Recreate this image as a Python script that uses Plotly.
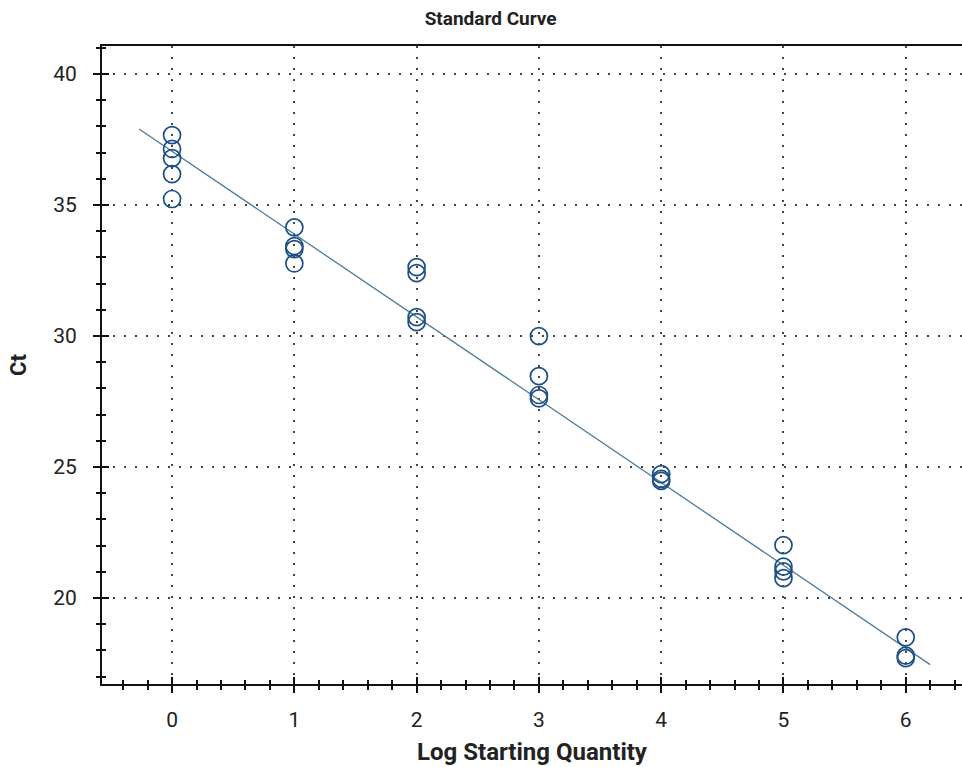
import plotly.graph_objects as go

# Data
log_qty = [0, 0, 0, 0, 0,
           1, 1, 1, 1,
           2, 2, 2, 2,
           3, 3, 3, 3,
           4, 4, 4,
           5, 5, 5, 5,
           6, 6, 6]
ct_values = [37.67, 37.14, 36.79, 36.18, 35.23,
             34.15, 33.43, 33.32, 32.77,
             32.63, 32.40, 30.72, 30.53,
             30.00, 28.47, 27.75, 27.62,
             24.73, 24.55, 24.47,
             22.02, 21.20, 21.02, 20.76,
             18.50, 17.80, 17.71]

fit_slope = -3.16
fit_intercept = 37.05
fit_x = [-0.27, 6.2]
fit_y = [fit_intercept + fit_slope * v for v in fit_x]

x_ticks = [0, 1, 2, 3, 4, 5, 6]
y_ticks = [20, 25, 30, 35, 40]

FONT = "Liberation Sans Narrow, Arial Narrow, Roboto, Liberation Sans, Arial"
XR = [-0.573, 6.46]
YR = [16.72, 41.07]

fig = go.Figure()
fig.add_trace(go.Scatter(
    x=fit_x, y=fit_y, mode="lines",
    line=dict(color="#4d7c9c", width=1.3),
    hoverinfo="skip", showlegend=False))
fig.add_trace(go.Scatter(
    x=log_qty, y=ct_values, mode="markers",
    marker=dict(symbol="circle-open", size=17,
                line=dict(color="#1d4f86", width=1.7), color="#1d4f86"),
    showlegend=False))
# dummy trace on overlay axes
fig.add_trace(go.Scatter(x=[None], y=[None], xaxis="x2", yaxis="y2",
                         showlegend=False, hoverinfo="skip"))

grid_common = dict(showgrid=True, gridcolor="#444444", gridwidth=1.6,
                   griddash="2px,9px", zeroline=False, automargin=False)

fig.update_layout(
    width=962, height=767,
    margin=dict(l=102, r=0, t=46, b=83, autoexpand=False),
    paper_bgcolor="white", plot_bgcolor="white",
    title=dict(text="<b>Standard Curve</b>", x=0.51, xanchor="center",
               y=0.976, yanchor="middle", automargin=False,
               font=dict(family=FONT, size=19, color="#222")),
    xaxis=dict(range=XR, tickvals=x_ticks, ticktext=[str(v) for v in x_ticks],
               ticks="outside", ticklen=7, tickwidth=1.5, tickcolor="#111",
               showline=True, linecolor="#111", linewidth=2,
               minor=dict(ticks="outside", ticklen=4, tickwidth=1.5,
                          tickcolor="#111", dtick=0.2, tick0=0, showgrid=False),
               tickfont=dict(family=FONT, size=21, color="#222"),
               ticklabelstandoff=9,
               title=dict(text="<b>Log Starting Quantity</b>", standoff=12,
                          font=dict(family=FONT, size=24, color="#222")),
               **grid_common),
    yaxis=dict(range=YR, tickvals=y_ticks, ticktext=[str(v) for v in y_ticks],
               ticks="outside", ticklen=7, tickwidth=1.5, tickcolor="#111",
               showline=True, linecolor="#111", linewidth=2,
               minor=dict(ticks="outside", ticklen=4, tickwidth=1.5,
                          tickcolor="#111", dtick=1, tick0=0, showgrid=False),
               tickfont=dict(family=FONT, size=21, color="#222"),
               ticklabelstandoff=12,
               title=dict(text="<b>Ct</b>", standoff=20,
                          font=dict(family=FONT, size=22, color="#222")),
               **grid_common),
    xaxis2=dict(range=XR, overlaying="x", anchor="y2", side="bottom",
                tickvals=x_ticks, showticklabels=False,
                ticks="inside", ticklen=7, tickwidth=1.5, tickcolor="#111",
                showline=True, linecolor="#111", linewidth=2, mirror=True,
                minor=dict(ticks="inside", ticklen=4, tickwidth=1.5,
                           tickcolor="#111", dtick=0.2, tick0=0),
                showgrid=False, zeroline=False, automargin=False),
    yaxis2=dict(range=YR, overlaying="y", anchor="x2", side="left",
                tickvals=y_ticks, showticklabels=False,
                ticks="inside", ticklen=7, tickwidth=1.5, tickcolor="#111",
                showline=False,
                minor=dict(ticks="inside", ticklen=4, tickwidth=1.5,
                           tickcolor="#111", dtick=1, tick0=0),
                showgrid=False, zeroline=False, automargin=False),
)

fig.write_html("out.html", config={"displayModeBar": False},
               post_script="document.body.style.margin='0';")
